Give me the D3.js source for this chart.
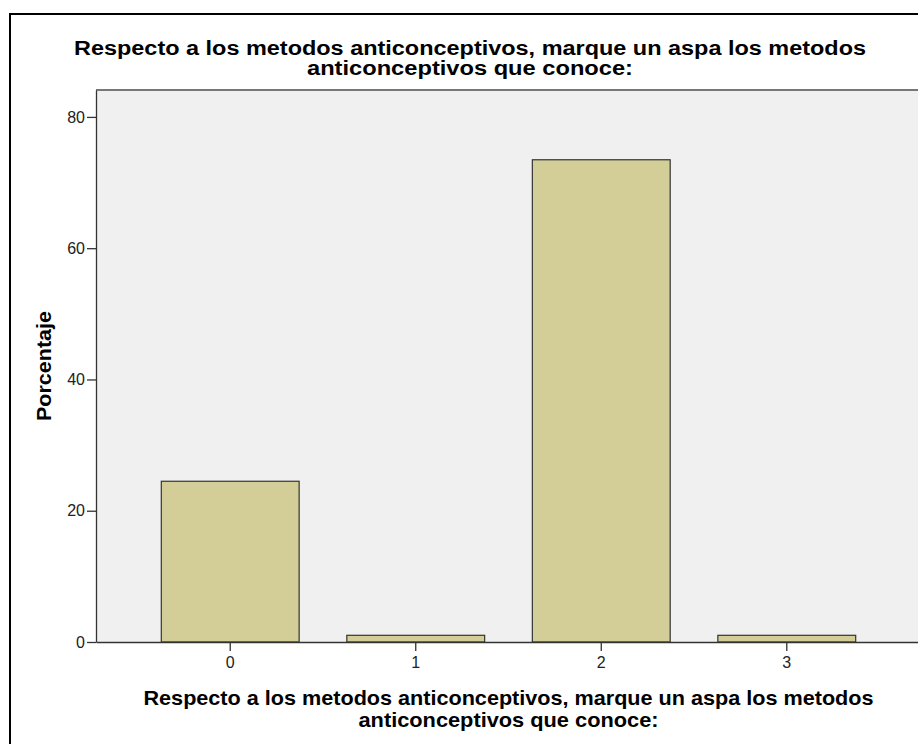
<!DOCTYPE html>
<head>
  <meta charset="utf-8">
  <script src="https://d3js.org/d3.v7.min.js"></script>
  <style>
    body { margin:0; background:#fff; }
    text { font-family: "Liberation Sans", Arial, sans-serif; }
  </style>
</head>
<body>
<svg width="918" height="744" id="chart"></svg>
<script>
  // data
  var categories = ["0", "1", "2", "3"];
  var percents = [24.49, 1.02, 73.47, 1.02];
  var yTicks = [0, 20, 40, 60, 80];
  var titleLines = ["Respecto a los metodos anticonceptivos, marque un aspa los metodos",
                    "anticonceptivos que conoce:"];
  var xTitleLines = ["Respecto a los metodos anticonceptivos, marque un aspa los metodos",
                     "anticonceptivos que conoce:"];
  var yTitle = "Porcentaje";

  var svg = d3.select("#chart"),
      margin = {top: 90, right: -3, bottom: 102, left: 96},
      width = +svg.attr("width") - margin.left - margin.right,
      height = +svg.attr("height") - margin.top - margin.bottom;

  // outer frame
  svg.append("rect")
    .attr("x", 10).attr("y", 14)
    .attr("width", 940).attr("height", 760)
    .attr("fill", "none").attr("stroke", "#000").attr("stroke-width", 2);

  var g = svg.append("g").attr("transform", "translate(" + margin.left + "," + margin.top + ")");

  var x = d3.scaleBand().domain(categories).range([0, width]).paddingInner(0.257).paddingOuter(0.352);
  var y = d3.scaleLinear().domain([0, 84.1]).range([height, 0]);

  g.append("rect")
    .attr("width", width).attr("height", height)
    .attr("fill", "#f0f0f0");
  g.append("line")
    .attr("x1", 0).attr("x2", width).attr("y1", 0).attr("y2", 0)
    .attr("stroke", "#777").attr("stroke-width", 2);

  g.selectAll(".bar").data(percents).enter().append("rect")
    .attr("class", "bar")
    .attr("x", function(d, i) { return x(categories[i]); })
    .attr("y", function(d) { return y(d); })
    .attr("width", x.bandwidth())
    .attr("height", function(d) { return height - y(d); })
    .attr("fill", "#d3ce97")
    .attr("stroke", "#333")
    .attr("stroke-width", 1.2);

  var yAxis = g.append("g")
    .call(d3.axisLeft(y).tickValues(yTicks).tickSize(9).tickSizeOuter(0).tickPadding(2));
  var xAxis = g.append("g")
    .attr("transform", "translate(0," + height + ")")
    .call(d3.axisBottom(x).tickSize(9).tickSizeOuter(0).tickPadding(6));

  [yAxis, xAxis].forEach(function(a) {
    a.select(".domain").attr("stroke", "#333").attr("stroke-width", 1.3);
    a.selectAll(".tick line").attr("stroke", "#333").attr("stroke-width", 1.3);
    a.selectAll(".tick text").attr("fill", "#222").style("font-size", "16px")
      .style("font-family", "\"Liberation Sans\", Arial, sans-serif");
  });

  // titles (widths matched to the reference)
  var titleWidths = [792, 326];
  svg.selectAll(".title").data(titleLines).enter().append("text")
    .attr("class", "title")
    .attr("x", 470).attr("y", function(d, i) { return 55 + i * 20; })
    .attr("text-anchor", "middle")
    .attr("textLength", function(d, i) { return titleWidths[i]; })
    .attr("lengthAdjust", "spacingAndGlyphs")
    .style("font-size", "20px").style("font-weight", "bold")
    .text(function(d) { return d; });

  var xTitleWidths = [730, 300];
  svg.selectAll(".xtitle").data(xTitleLines).enter().append("text")
    .attr("class", "xtitle")
    .attr("x", margin.left + width / 2).attr("y", function(d, i) { return 705 + i * 22; })
    .attr("text-anchor", "middle")
    .attr("textLength", function(d, i) { return xTitleWidths[i]; })
    .attr("lengthAdjust", "spacingAndGlyphs")
    .style("font-size", "21px").style("font-weight", "bold")
    .text(function(d) { return d; });

  svg.append("text")
    .attr("transform", "translate(51," + (margin.top + height / 2) + ") rotate(-90)")
    .attr("text-anchor", "middle")
    .attr("textLength", 110)
    .attr("lengthAdjust", "spacingAndGlyphs")
    .style("font-size", "21px").style("font-weight", "bold")
    .text(yTitle);
</script>
</body>
